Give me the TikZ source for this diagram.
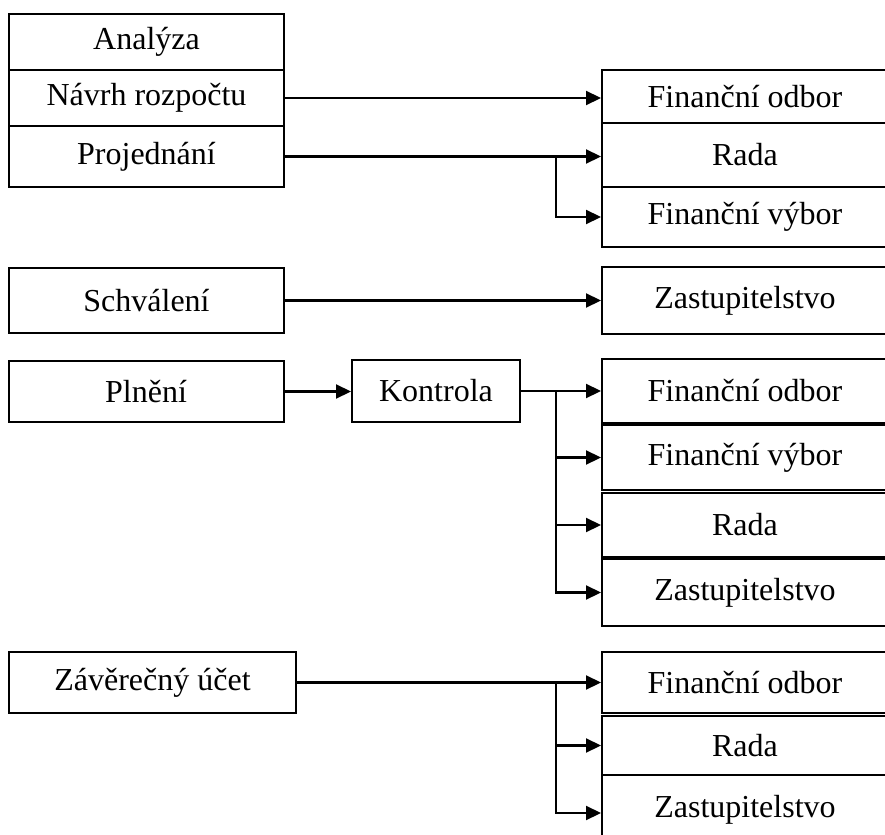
\documentclass[tikz,border=0pt]{standalone}
\usepackage{fontspec}
\setmainfont{Liberation Serif}
\usetikzlibrary{arrows.meta}
\begin{document}
\begin{tikzpicture}[x=0.5pt,y=-0.5pt,
        box/.style={draw,line width=1pt,inner sep=0pt,font=\fontsize{16}{19}\selectfont},
        lbox/.style={box,minimum width=137.5pt},
        rbox/.style={box,minimum width=143pt},
        arr/.style={line width=1.1pt,-{Triangle[length=7.5pt,width=7pt]}}]
        \useasboundingbox (0,0) rectangle (885,835);

        \node (anal) at (146.5,42) [lbox,minimum height=28pt] {Analýza};
        \node (navrh) at (146.5,98) [lbox,minimum height=28pt] {Návrh rozpočtu};
        \node (projed) at (146.5,156.5) [lbox,minimum height=30.5pt] {Projednání};
        \node (fo1) at (745,96.5) [rbox,minimum height=26.5pt] {Finanční odbor};
        \node (rada1) at (745,155) [rbox,minimum height=32pt] {Rada};
        \node (fv1) at (745,217) [rbox,minimum height=30pt] {Finanční výbor};

        \node (schval) at (146.5,300.5) [lbox,minimum height=32.5pt] {Schválení};
        \node (zast1) at (745,300.5) [rbox,minimum height=33.5pt] {Zastupitelstvo};

        \node (plneni) at (146,391.5) [lbox,minimum height=30.5pt] {Plnění};
        \node (kontr) at (436,391) [box,minimum width=84pt,minimum height=31pt] {Kontrola};
        \node (fo2) at (745,391) [rbox,minimum height=32pt] {Finanční odbor};
        \node (fv2) at (745,457.5) [rbox,minimum height=32.5pt] {Finanční výbor};
        \node (rada2) at (745,525) [rbox,minimum height=32pt] {Rada};
        \node (zast2) at (745,592.5) [rbox,minimum height=33.5pt] {Zastupitelstvo};

        \node (zaver) at (152.5,682.5) [box,minimum width=143.5pt,minimum height=30.5pt] {Závěrečný účet};
        \node (fo3) at (745,682.5) [rbox,minimum height=30.5pt] {Finanční odbor};
        \node (rada3) at (745,745.5) [rbox,minimum height=29.5pt] {Rada};
        \node (zast3) at (745,810) [rbox,minimum height=35pt] {Zastupitelstvo};

        \coordinate (col) at (556,0);
        \coordinate (j1) at (projed.east -| col);
        \coordinate (j2) at (kontr.east -| col);
        \coordinate (j3) at (zaver.east -| col);

        \draw[arr] (navrh.east) -- (navrh.east -| fo1.west);
        \draw[arr] (projed.east) -- (projed.east -| rada1.west);
        \draw[arr] (j1) |- (fv1.west);
        \draw[arr] (schval.east) -- (schval.east -| zast1.west);

        \draw[arr] (plneni.east) -- (plneni.east -| kontr.west);
        \draw[arr] (kontr.east) -- (kontr.east -| fo2.west);
        \draw[arr] (j2) |- (fv2.west);
        \draw[arr] (j2) |- (rada2.west);
        \draw[arr] (j2) |- (zast2.west);

        \draw[arr] (zaver.east) -- (zaver.east -| fo3.west);
        \draw[arr] (j3) |- (rada3.west);
        \draw[arr] (j3) |- ([yshift=-1.5pt]zast3.west);
    \end{tikzpicture}
\end{document}
